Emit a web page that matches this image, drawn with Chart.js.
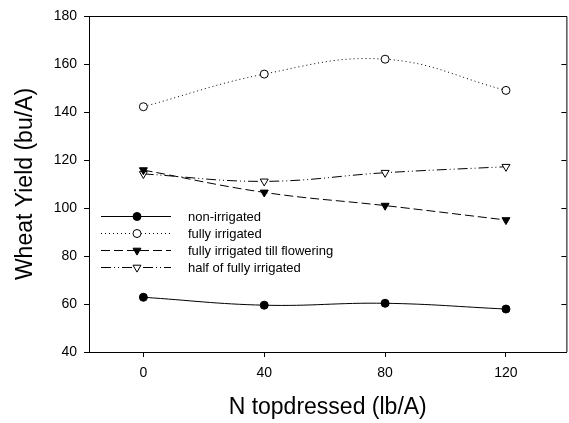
<!DOCTYPE html>
<html>
<head>
<meta charset="utf-8">
<script src="https://cdn.jsdelivr.net/npm/chart.js@4/dist/chart.umd.min.js"></script>
<style>
  html, body { margin: 0; padding: 0; background: #fff; overflow: hidden; }
  #wrap { width: 569px; height: 423px; position: relative; overflow: hidden; }
</style>
</head>
<body>
<div id="wrap"><canvas id="c" width="572" height="423"></canvas></div>
<script>
/* ── data ─────────────────────────────────────────────── */
const N_RATES = [0, 40, 80, 120];
const NON_IRRIGATED = [62.8, 59.5, 60.3, 57.9];
const FULLY_IRRIGATED = [142.2, 155.8, 162.0, 149.0];
const TILL_FLOWERING = [115.8, 106.5, 101.0, 95.0];
const HALF_IRRIGATED = [114.2, 111.1, 114.7, 117.2];
const X_TICKS = [0, 40, 80, 120];
const Y_TICKS = [40, 60, 80, 100, 120, 140, 160, 180];

const FONT = "Arial, 'Liberation Sans', sans-serif";

const pts = (ys) => N_RATES.map((x, i) => ({ x, y: ys[i] }));

const SERIES = [
  { label: "non-irrigated", data: NON_IRRIGATED, dash: [], style: "circle", fill: "#000", rot: 0, r: 4 },
  { label: "fully irrigated", data: FULLY_IRRIGATED, dash: [1, 3], style: "circle", fill: "#fff", rot: 0, r: 4 },
  { label: "fully irrigated till flowering", data: TILL_FLOWERING, dash: [9, 4], style: "triangle", fill: "#000", rot: 180, r: 4.6 },
  { label: "half of fully irrigated", data: HALF_IRRIGATED, dash: [10, 3, 1, 3, 1, 3], style: "triangle", fill: "#fff", rot: 180, r: 4.6 },
];

/* ── marker helper for the in-plot legend ─────────────── */
const drawMarker = (ctx, s, x, y) => {
  ctx.save();
  ctx.fillStyle = s.fill;
  ctx.strokeStyle = "#000";
  ctx.lineWidth = 1;
  Chart.helpers.drawPoint(ctx, { pointStyle: s.style, radius: s.r, rotation: s.rot, borderWidth: 1 }, x, y);
  ctx.restore();
};

/* ── frame (top/right) + legend inside plot ───────────── */
const framePlugin = {
  id: "frameLegend",
  afterDatasetsDraw(chart) {
    const { ctx, chartArea: a } = chart;
    ctx.save();
    ctx.strokeStyle = "#000";
    ctx.lineWidth = 1;
    ctx.beginPath();
    ctx.moveTo(a.left, a.top + 0.5);
    ctx.lineTo(a.right + 0.5, a.top + 0.5);
    ctx.lineTo(a.right + 0.5, a.bottom);
    ctx.stroke();
    // inward ticks on the right side
    const ys = chart.scales.y;
    Y_TICKS.forEach((v) => {
      const py = Math.round(ys.getPixelForValue(v)) + 0.5;
      ctx.beginPath();
      ctx.moveTo(a.right - 5, py);
      ctx.lineTo(a.right, py);
      ctx.stroke();
    });
    // legend rows
    const rowY = [216, 233, 250, 267];
    SERIES.forEach((s, i) => {
      const y = rowY[i] + 0.5;
      ctx.strokeStyle = "#000";
      ctx.setLineDash(s.dash);
      ctx.beginPath();
      ctx.moveTo(101, y);
      ctx.lineTo(171, y);
      ctx.stroke();
      ctx.setLineDash([]);
      drawMarker(ctx, s, 137, y);
      ctx.fillStyle = "#000";
      ctx.font = "13px " + FONT;
      ctx.textBaseline = "middle";
      ctx.textAlign = "left";
      ctx.fillText(s.label, 188, rowY[i] + 1);
    });
    ctx.restore();
  },
};

new Chart(document.getElementById("c"), {
  type: "line",
  data: {
    datasets: SERIES.map((s) => ({
      label: s.label,
      data: pts(s.data),
      borderColor: "#000",
      borderWidth: 1,
      borderDash: s.dash,
      tension: 0.4,
      pointStyle: s.style,
      pointRotation: s.rot,
      pointRadius: s.r,
      pointBackgroundColor: s.fill,
      pointBorderColor: "#000",
      pointBorderWidth: 1,
      fill: false,
    })),
  },
  options: {
    responsive: false,
    animation: false,
    devicePixelRatio: 1,
    layout: { padding: { top: 16, right: 2, left: 0, bottom: 0 } },
    plugins: { legend: { display: false }, tooltip: { enabled: false } },
    scales: {
      x: {
        type: "linear",
        min: -18,
        max: 140,
        afterBuildTicks: (ax) => { ax.ticks = X_TICKS.map((v) => ({ value: v })); },
        afterFit: (ax) => { ax.height = 71; },
        grid: { drawOnChartArea: false, drawTicks: true, tickLength: 5, color: "#000" },
        border: { display: true, color: "#000", width: 1 },
        ticks: { color: "#000", font: { family: FONT, size: 14 }, padding: 8 },
        title: { display: true, text: "N topdressed (lb/A)", color: "#000", font: { family: FONT, size: 23 }, padding: { top: 0, bottom: 2 } },
      },
      y: {
        type: "linear",
        min: 40,
        max: 180,
        afterBuildTicks: (ax) => { ax.ticks = Y_TICKS.map((v) => ({ value: v })); },
        afterFit: (ax) => { ax.width = 89; },
        grid: { drawOnChartArea: false, drawTicks: true, tickLength: 5, color: "#000" },
        border: { display: true, color: "#000", width: 1 },
        ticks: { color: "#000", font: { family: FONT, size: 14 }, padding: 7 },
        title: { display: true, text: "Wheat Yield (bu/A)", color: "#000", font: { family: FONT, size: 23 }, padding: { top: 12, bottom: 0 } },
      },
    },
  },
  plugins: [framePlugin],
});
</script>
</body>
</html>
